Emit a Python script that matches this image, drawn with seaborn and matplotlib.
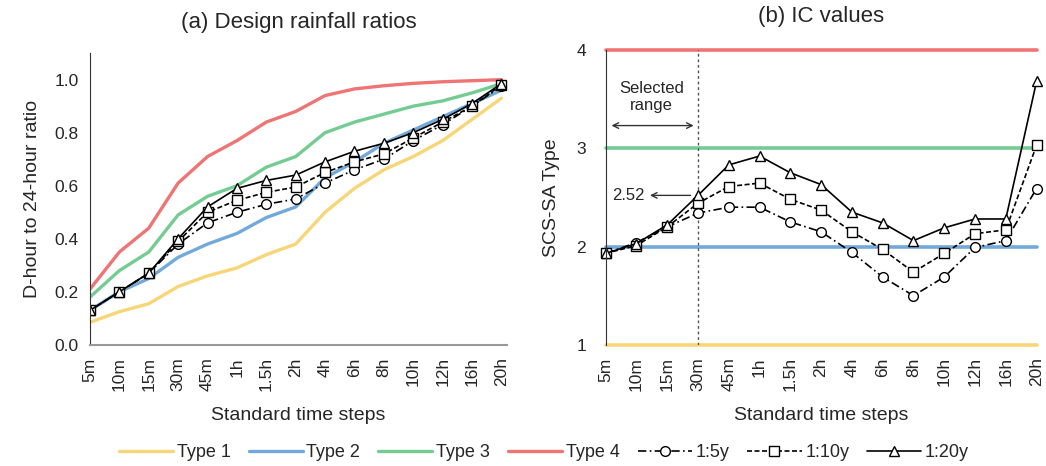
import matplotlib
matplotlib.use("Agg")
import matplotlib.pyplot as plt
import seaborn as sns
import pandas as pd

# time steps on the x axis
steps = ["5m", "10m", "15m", "30m", "45m", "1h", "1.5h", "2h",
         "4h", "6h", "8h", "10h", "12h", "16h", "20h"]

# (a) design rainfall ratios
type1_ratio = [0.085, 0.125, 0.155, 0.22, 0.26, 0.29, 0.34, 0.38, 0.50, 0.59, 0.66, 0.71, 0.77, 0.85, 0.93]
type2_ratio = [0.13, 0.20, 0.25, 0.33, 0.38, 0.42, 0.48, 0.52, 0.63, 0.69, 0.76, 0.81, 0.86, 0.91, 0.96]
type3_ratio = [0.18, 0.28, 0.35, 0.49, 0.56, 0.60, 0.67, 0.71, 0.80, 0.84, 0.87, 0.90, 0.92, 0.95, 0.985]
type4_ratio = [0.21, 0.35, 0.44, 0.61, 0.71, 0.77, 0.84, 0.88, 0.94, 0.965, 0.977, 0.986, 0.992, 0.996, 1.0]
rp5_ratio = [0.13, 0.20, 0.27, 0.38, 0.46, 0.50, 0.53, 0.55, 0.61, 0.66, 0.70, 0.77, 0.83, 0.90, 0.975]
rp10_ratio = [0.13, 0.20, 0.27, 0.39, 0.50, 0.545, 0.575, 0.595, 0.65, 0.69, 0.72, 0.78, 0.84, 0.90, 0.98]
rp20_ratio = [0.13, 0.20, 0.27, 0.40, 0.52, 0.59, 0.62, 0.64, 0.69, 0.73, 0.76, 0.80, 0.85, 0.91, 0.985]

# (b) IC values
type_levels = [1, 2, 3, 4]
rp5_ic = [1.93, 2.04, 2.20, 2.34, 2.40, 2.40, 2.25, 2.15, 1.94, 1.69, 1.50, 1.69, 1.99, 2.06, 2.59]
rp10_ic = [1.93, 2.01, 2.20, 2.44, 2.61, 2.645, 2.48, 2.37, 2.15, 1.97, 1.74, 1.93, 2.13, 2.17, 3.03]
rp20_ic = [1.93, 2.03, 2.22, 2.52, 2.83, 2.92, 2.75, 2.63, 2.35, 2.24, 2.06, 2.19, 2.28, 2.28, 3.68]
selected_idx = 3  # 30m

type_names = ["Type 1", "Type 2", "Type 3", "Type 4"]
type_colors = ["#F8D677", "#72A9DA", "#74CC92", "#EF7474"]

sns.set_style("white")
plt.rcParams["font.family"] = ["Liberation Sans", "DejaVu Sans"]

pos = list(range(len(steps)))

fig = plt.figure(figsize=(10.46, 4.66), dpi=100)
ax1 = fig.add_axes([0.086, 0.26, 0.399, 0.626])
ax2 = fig.add_axes([0.579, 0.26, 0.412, 0.633])

# series styles for the return periods
rp_styles = [
    ("1:5y", "o", (5, 2, 1, 2)),
    ("1:10y", "s", (3, 1.5)),
    ("1:20y", "^", None),
]

# panel (a)
for name, col, vals in zip(type_names, type_colors,
                           [type1_ratio, type2_ratio, type3_ratio, type4_ratio]):
    sns.lineplot(x=pos, y=vals, ax=ax1, color=col, lw=2.4, label=name)

for (name, mk, dash), vals in zip(rp_styles, [rp5_ratio, rp10_ratio, rp20_ratio]):
    line_kw = dict(color="black", lw=1.2, marker=mk, ms=7, mfc="white", mec="black", mew=1.0)
    sns.lineplot(x=pos, y=vals, ax=ax1, label=name, **line_kw)
    if dash is not None:
        ax1.lines[-1].set_dashes(dash)

ax1.set_xlim(0, 14.2)
ax1.set_ylim(0, 1.1)
ax1.set_yticks([0, 0.2, 0.4, 0.6, 0.8, 1.0])
ax1.set_yticklabels(["0.0", "0.2", "0.4", "0.6", "0.8", "1.0"], fontsize=12.5)
ax1.set_xticks(pos)
ax1.set_xticklabels(steps, rotation=90, fontsize=12.5)
ax1.set_xlabel("Standard time steps", fontsize=14, labelpad=11)
ax1.set_ylabel("D-hour to 24-hour ratio", fontsize=14, labelpad=10)
ax1.set_title("(a) Design rainfall ratios", fontsize=16, pad=18)
for s in ["top", "right"]:
    ax1.spines[s].set_visible(False)
ax1.spines["left"].set_color("#333333")
ax1.spines["bottom"].set_color("#999999")
ax1.spines["bottom"].set_linewidth(1.5)
ax1.tick_params(axis="y", length=0, pad=8)
ax1.tick_params(axis="x", length=0, pad=9)
handles, labels = ax1.get_legend_handles_labels()
ax1.get_legend().remove()

# panel (b)
for name, col, lvl in zip(type_names, type_colors, type_levels):
    sns.lineplot(x=pos, y=[lvl] * len(pos), ax=ax2, color=col, lw=2.6, clip_on=False)

ax2.axvline(selected_idx, color="#555555", lw=1.0, ls=(0, (2, 2)))

for (name, mk, dash), vals in zip(rp_styles, [rp5_ic, rp10_ic, rp20_ic]):
    line_kw = dict(color="black", lw=1.2, marker=mk, ms=7, mfc="white", mec="black", mew=1.0)
    sns.lineplot(x=pos, y=vals, ax=ax2, **line_kw, clip_on=False)
    if dash is not None:
        ax2.lines[-1].set_dashes(dash)

ax2.set_xlim(0, 14)
ax2.set_ylim(1, 4)
ax2.set_yticks(type_levels)
ax2.set_yticklabels([str(v) for v in type_levels], fontsize=12.5)
ax2.set_xticks(pos)
ax2.set_xticklabels(steps, rotation=90, fontsize=12.5)
ax2.set_xlabel("Standard time steps", fontsize=14, labelpad=11)
ax2.set_ylabel("SCS-SA Type", fontsize=14, labelpad=12)
ax2.set_title("(b) IC values", fontsize=16, pad=20)
for s in ["top", "right", "bottom"]:
    ax2.spines[s].set_visible(False)
ax2.spines["left"].set_color("#333333")
ax2.tick_params(axis="y", length=0, pad=14)
ax2.tick_params(axis="x", length=0, pad=9)

ax2.annotate("", xy=(0.1, 3.23), xytext=(selected_idx - 0.05, 3.23),
             arrowprops=dict(arrowstyle="<->", color="#333333", lw=1.0))
ax2.text(1.5, 3.52, "Selected\nrange", ha="center", va="center", fontsize=12)
ax2.annotate("", xy=(1.35, rp20_ic[selected_idx]), xytext=(selected_idx - 0.15, rp20_ic[selected_idx]),
             arrowprops=dict(arrowstyle="->", color="#333333", lw=1.0))
ax2.text(1.27, rp20_ic[selected_idx], "2.52", ha="right", va="center", fontsize=12)

fig.legend(handles, labels, loc="lower center", bbox_to_anchor=(0.52, -0.025), ncol=7,
           frameon=False, fontsize=13, handlelength=3.0, handletextpad=0.2, columnspacing=1.0)

fig.savefig("out.png", dpi=100)
